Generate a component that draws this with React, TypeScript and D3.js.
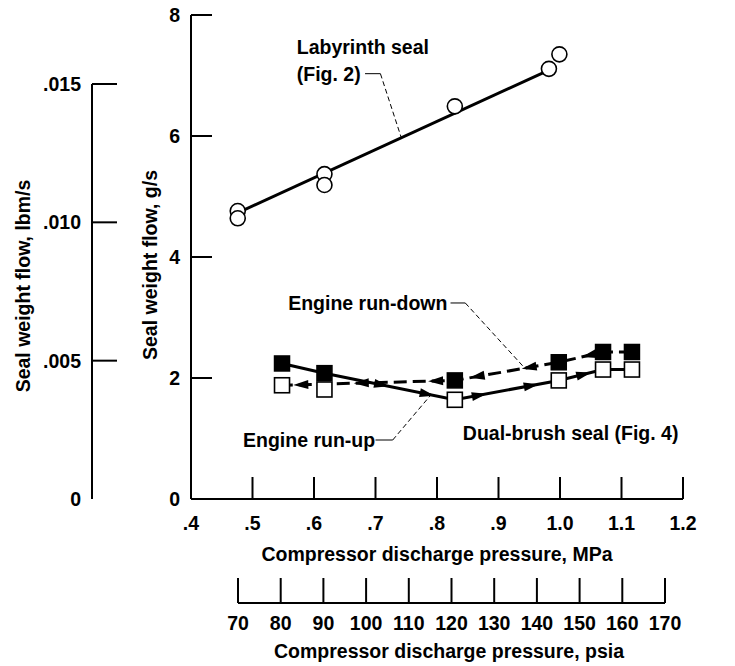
import React from "react";
import * as d3 from "d3";

// ---- data ----
const mpaTicks = [0.4, 0.5, 0.6, 0.7, 0.8, 0.9, 1.0, 1.1, 1.2];
const mpaTickLabels = [".4", ".5", ".6", ".7", ".8", ".9", "1.0", "1.1", "1.2"];
const gsTicks = [0, 2, 4, 6, 8];
const lbmTicks = [0, 0.005, 0.01, 0.015];
const lbmTickLabels = ["0", ".005", ".010", ".015"];
const psiaTicks = [70, 80, 90, 100, 110, 120, 130, 140, 150, 160, 170];

// Labyrinth seal (Fig. 2) measured points
const labyX = [0.476, 0.476, 0.617, 0.617, 0.829, 0.982, 0.999];
const labyY = [4.76, 4.64, 5.37, 5.19, 6.49, 7.11, 7.35];
// fitted line
const labyFitX = [0.476, 0.982];
const labyFitY = [4.73, 7.09];

// Dual-brush seal (Fig. 4)
const brushX = [0.548, 0.617, 0.829, 0.998, 1.07, 1.117];
const brushFilledY = [2.24, 2.08, 1.96, 2.26, 2.43, 2.43];
const brushOpenY = [1.88, 1.81, 1.64, 1.96, 2.14, 2.14];

const FONT = "'Liberation Sans', Arial, Helvetica, sans-serif";

export default function App() {
  const W = 735, H = 666;
  const x = d3.scaleLinear().domain([0.4, 1.2]).range([191, 683]);
  const y = d3.scaleLinear().domain([0, 8]).range([499, 15]);
  const yLbm = d3.scaleLinear().domain([0, 0.015]).range([499, 84]);
  const xPsia = d3.scaleLinear().domain([70, 170]).range([238, 665]);

  const line = d3.line<[number, number]>().x((d) => x(d[0])).y((d) => y(d[1]));

  const filledPts: [number, number][] = brushX.map((v, i) => [v, brushFilledY[i]]);
  const openPts: [number, number][] = brushX.map((v, i) => [v, brushOpenY[i]]);

  // run-up (solid): filled1 -> filled2 -> open3 -> open4 -> open5 -> open6
  const runUp: [number, number][] = [filledPts[0], filledPts[1], openPts[2], openPts[3], openPts[4], openPts[5]];
  // run-down (dashed): filled6 -> filled5 -> filled4 -> filled3 -> open1
  const runDown: [number, number][] = [filledPts[5], filledPts[4], filledPts[3], filledPts[2], openPts[0]];

  // arrowheads: [segment index, fraction]
  const upArrows: [number, number][] = [[1, 0.45], [1, 0.8], [2, 0.25], [2, 0.75], [3, 0.6]];
  const downArrows: [number, number][] = [[1, 0.35], [2, 0.3], [2, 0.8], [3, 0.12], [3, 0.55], [3, 0.9]];

  const arrowAt = (pts: [number, number][], seg: number, f: number, key: string) => {
    const a = pts[seg], b = pts[seg + 1];
    const x0 = x(a[0]), y0 = y(a[1]), x1 = x(b[0]), y1 = y(b[1]);
    const px = x0 + (x1 - x0) * f, py = y0 + (y1 - y0) * f;
    const ang = (Math.atan2(y1 - y0, x1 - x0) * 180) / Math.PI;
    return (
      <path key={key} d="M6,0 L-9,-4.5 L-9,4.5 Z" fill="#000" transform={`translate(${px},${py}) rotate(${ang})`} />
    );
  };

  const fs = 19.5;
  const textStyle = { fontFamily: FONT, fontWeight: 700, fontSize: fs } as const;

  const sq = 15;
  const sw = 2;

  // annotation leader helpers (in data coords)
  const labyLeader: [number, number][] = [[0.683, 7.03], [0.708, 7.03], [0.742, 4.73 + (0.742 - 0.476) * (7.09 - 4.73) / (0.982 - 0.476)]];
  const downLeader: [number, number][] = [[0.822, 3.24], [0.846, 3.24], [0.943, 2.16]];
  const upLeader: [number, number][] = [[0.7, 0.975], [0.728, 0.975], [0.79, 1.72]];

  const leader = (pts: [number, number][], key: string) => (
    <g key={key}>
      <line x1={x(pts[0][0])} y1={y(pts[0][1])} x2={x(pts[1][0])} y2={y(pts[1][1])} stroke="#000" strokeWidth={1} />
      <line x1={x(pts[1][0])} y1={y(pts[1][1])} x2={x(pts[2][0])} y2={y(pts[2][1])} stroke="#000" strokeWidth={1} strokeDasharray="5,3" />
    </g>
  );

  return (
    <svg width={W} height={H} style={{ position: "absolute", left: 0, top: 0, background: "#fff" }}>
      <rect x={0} y={0} width={W} height={H} fill="#fff" />

      {/* lbm/s axis */}
      <line x1={92} x2={92} y1={yLbm(0.015)} y2={yLbm(0)} stroke="#000" strokeWidth={sw} />
      {lbmTicks.map((t, i) => (
        <g key={"lb" + i}>
          {t > 0 && <line x1={92} x2={117} y1={yLbm(t)} y2={yLbm(t)} stroke="#000" strokeWidth={sw} />}
          <text x={81} y={yLbm(t)} dy="0.36em" textAnchor="end" {...textStyle}>{lbmTickLabels[i]}</text>
        </g>
      ))}
      <text transform={`translate(23,286) rotate(-90)`} textAnchor="middle" dy="0.36em" {...textStyle}>Seal weight flow, lbm/s</text>

      {/* main y axis */}
      <line x1={191} x2={191} y1={y(8)} y2={y(0)} stroke="#000" strokeWidth={sw} />
      {gsTicks.map((t) => (
        <g key={"gs" + t}>
          {t > 0 && <line x1={191} x2={212} y1={y(t)} y2={y(t)} stroke="#000" strokeWidth={sw} />}
          <text x={180} y={y(t)} dy="0.36em" textAnchor="end" {...textStyle}>{t}</text>
        </g>
      ))}
      <text transform={`translate(150,265) rotate(-90)`} textAnchor="middle" dy="0.36em" {...textStyle}>Seal weight flow, g/s</text>

      {/* main x axis */}
      <line x1={x(0.4)} x2={x(1.2)} y1={y(0)} y2={y(0)} stroke="#000" strokeWidth={sw} />
      {mpaTicks.map((t, i) => (
        <g key={"mx" + i}>
          {i > 0 && <line x1={x(t)} x2={x(t)} y1={y(0)} y2={y(0) - 22} stroke="#000" strokeWidth={sw} />}
          <text x={x(t)} y={523} dy="0.36em" textAnchor="middle" {...textStyle}>{mpaTickLabels[i]}</text>
        </g>
      ))}
      <text x={437} y={554} dy="0.36em" textAnchor="middle" {...textStyle}>Compressor discharge pressure, MPa</text>

      {/* psia axis */}
      <line x1={xPsia(70)} x2={xPsia(170)} y1={603} y2={603} stroke="#000" strokeWidth={sw} />
      {psiaTicks.map((t) => (
        <g key={"ps" + t}>
          <line x1={xPsia(t)} x2={xPsia(t)} y1={603} y2={578} stroke="#000" strokeWidth={sw} />
          <text x={xPsia(t)} y={623} dy="0.36em" textAnchor="middle" {...textStyle}>{t}</text>
        </g>
      ))}
      <text x={449} y={651} dy="0.36em" textAnchor="middle" {...textStyle}>Compressor discharge pressure, psia</text>

      {/* Labyrinth seal */}
      <path d={line(labyFitX.map((v, i) => [v, labyFitY[i]]) as [number, number][]) || ""} fill="none" stroke="#000" strokeWidth={3} />
      {labyX.map((v, i) => (
        <circle key={"c" + i} cx={x(v)} cy={y(labyY[i])} r={7.5} fill="#fff" stroke="#000" strokeWidth={1.6} />
      ))}
      <text x={x(0.572)} y={47} dy="0.36em" {...textStyle}>Labyrinth seal</text>
      <text x={x(0.572)} y={y(7.03)} dy="0.36em" {...textStyle}>(Fig. 2)</text>
      {leader(labyLeader, "ll")}

      {/* Dual-brush seal lines */}
      <path d={line(runDown) || ""} fill="none" stroke="#000" strokeWidth={3} strokeDasharray="13,6" />
      <path d={line(runUp) || ""} fill="none" stroke="#000" strokeWidth={3} />
      {upArrows.map(([s, f], i) => arrowAt(runUp, s, f, "ua" + i))}
      {downArrows.map(([s, f], i) => arrowAt(runDown, s, f, "da" + i))}
      {filledPts.map((p, i) => (
        <rect key={"f" + i} x={x(p[0]) - sq / 2} y={y(p[1]) - sq / 2} width={sq} height={sq} fill="#000" stroke="#000" strokeWidth={1.5} />
      ))}
      {openPts.map((p, i) => (
        <rect key={"o" + i} x={x(p[0]) - sq / 2} y={y(p[1]) - sq / 2} width={sq} height={sq} fill="#fff" stroke="#000" strokeWidth={1.6} />
      ))}

      {/* annotations */}
      <text x={x(0.558)} y={y(3.24)} dy="0.36em" {...textStyle}>Engine run-down</text>
      {leader(downLeader, "dl")}
      <text x={x(0.4846)} y={y(0.975)} dy="0.36em" {...textStyle}>Engine run-up</text>
      {leader(upLeader, "ul")}
      <text x={x(0.842)} y={y(1.09)} dy="0.36em" {...textStyle}>Dual-brush seal (Fig. 4)</text>
    </svg>
  );
}
